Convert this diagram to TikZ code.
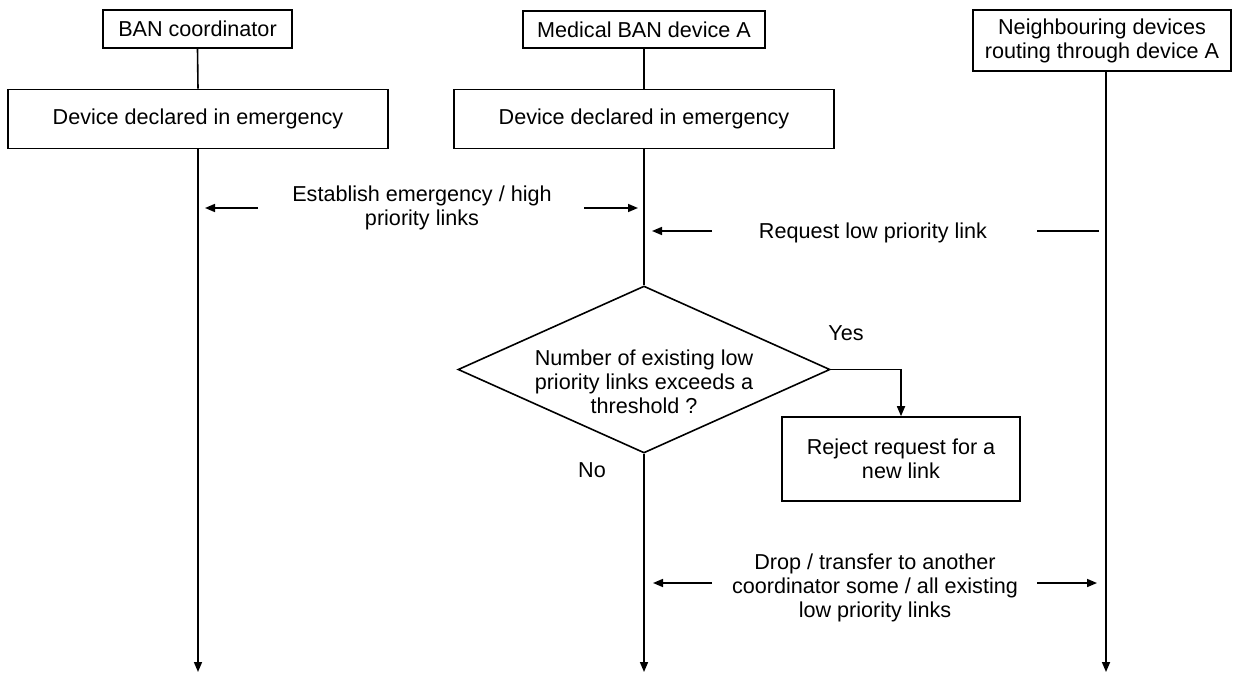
\documentclass[tikz,border=0pt]{standalone}
\usepackage{fontspec}
\setmainfont{Liberation Sans}
\usetikzlibrary{arrows.meta,shapes.geometric}
\begin{document}
\begin{tikzpicture}[x=0.5pt,y=-0.5pt,
  font=\fontsize{10.8pt}{12pt}\selectfont,
  line width=0.8pt,
  box/.style={draw,inner sep=0pt,align=center},
  decision/.style={draw,shape=diamond,aspect=2.23,inner sep=0pt,
    minimum width=186pt,minimum height=83.5pt,align=center},
  lbl/.style={align=center,inner sep=0pt},
  arr/.style={-{Triangle[length=5pt,width=4pt]}}
]
\useasboundingbox (0,0) rectangle (1235,675);

% lifeline headers
\node[box,minimum width=94.5pt,minimum height=19pt] (coord) at (197.5,29) {BAN coordinator};
\node[box,minimum width=121pt,minimum height=18.5pt] (devA) at (644,29.5) {Medical BAN device A};
\node[box,minimum width=129pt,minimum height=30.5pt] (nbr) at (1102,40.5) {Neighbouring devices\\routing through device A};

% emergency state boxes
\node[box,minimum width=190pt,minimum height=29.5pt] (emc) at (198,119) {Device declared in emergency};
\node[box,minimum width=190pt,minimum height=29.5pt] (emA) at (644,119) {Device declared in emergency};

% decision (its text sits a little below the centre) and rejection
\node[decision,label={[lbl,yshift=-6pt]center:{Number of existing low\\priority links exceeds a\\threshold ?}}] (thr) at (644,369.5) {};
\node[box,minimum width=119pt,minimum height=42pt] (rej) at (901,459) {Reject request for a\\new link};

% lifeline ends
\coordinate (endC) at (198,672);
\coordinate (endA) at (644,672);
\coordinate (endN) at (1106,672);

% lifelines
\draw (coord.south) -- (emc.north);
\draw[arr] (emc.south) -- (endC);
\draw (devA.south) -- (emA.north);
\draw (emA.south) -- (thr.north);
\draw[arr] (thr.south) -- (endA);
\draw[arr] (nbr.south -| endN) -- (endN);

% decision branches
\draw[arr] (thr.east) -| (rej.north);
\node[lbl] (yes) at (846,333) {Yes};
\node[lbl] (no) at (592,470) {No};

% emergency / high priority links
\node[lbl] (est) at (422,208) {Establish emergency / high\\priority links};
\coordinate (estL) at (258,208);
\coordinate (estLt) at (205,208);
\coordinate (estR) at (584,208);
\coordinate (estRt) at (638,208);
\draw[arr] (estL) -- (estLt);
\draw[arr] (estR) -- (estRt);

% low priority link request
\node[lbl] (req) at (873,233) {Request low priority link};
\coordinate (reqA) at (712,231);
\coordinate (reqAt) at (652,231);
\coordinate (reqN) at (1099,231);
\coordinate (reqNt) at (1037,231);
\draw[arr] (reqA) -- (reqAt);
\draw (reqN) -- (reqNt);

% dropping / transferring links
\node[lbl] (drop) at (875,588) {Drop / transfer to another\\coordinator some / all existing\\low priority links};
\coordinate (dropA) at (712,583);
\coordinate (dropAt) at (653,583);
\coordinate (dropN) at (1037,583);
\coordinate (dropNt) at (1097,583);
\draw[arr] (dropA) -- (dropAt);
\draw[arr] (dropN) -- (dropNt);
\end{tikzpicture}
\end{document}
